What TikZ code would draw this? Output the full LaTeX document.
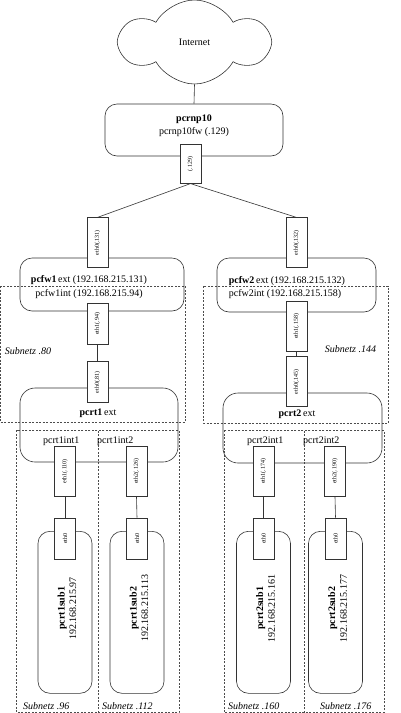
\documentclass[tikz,border=0pt]{standalone}
\usepackage{fontspec}
\setmainfont{Liberation Serif}
\usepackage{graphicx}
\usetikzlibrary{shapes,arrows}
\pgfdeclarelayer{background}
\pgfsetlayers{background,main}
\newcommand{\uptext}[1]{\rotatebox{90}{#1}}
\tikzstyle{host}=[draw=black!80, line width=0.6pt, rounded corners=12pt, 
    inner sep=0pt]
\tikzstyle{subhost}=[host, minimum width=54pt, minimum height=162pt]
\tikzstyle{iface}=[draw=black!80, line width=0.6pt, fill=white, inner sep=1pt,
    minimum width=21pt, minimum height=41pt, font=\fontsize{6}{7}\selectfont]
\tikzstyle{ifacelong}=[iface, minimum height=50pt]
\tikzstyle{lbl}=[inner sep=0pt, align=center, font=\fontsize{10}{13.3}\selectfont]
\tikzstyle{sublbl}=[lbl, rotate=90, font=\fontsize{10}{11.7}\selectfont]
\tikzstyle{snlabel}=[inner sep=0pt, font=\itshape]
\tikzstyle{subnet}=[draw=black!70, line width=0.6pt, dash pattern=on 2pt off 1.5pt]
\tikzstyle{link}=[draw=black!80, line width=0.6pt]
\tikzstyle{inet}=[cloud, draw=black!80, line width=0.6pt, cloud puffs=6, 
    cloud puff arc=120, aspect=1.75, minimum width=147pt, minimum height=84pt,
    inner sep=0pt]

\begin{document}
\begin{tikzpicture}[x=1pt,y=1pt]
    \useasboundingbox (0,0) rectangle (400,-713);

    \node (inet)[inet] at (194.5,-42) {Internet};
    \path (inet.center)+(-0.5,-88) node (pcrnp)[host, minimum width=178pt, 
        minimum height=52pt] {};
    \path (pcrnp.center)+(0,4.5) node (pcrnpText)[lbl] 
        {\textbf{pcrnp10}\\pcrnp10fw (.129)};
    \path (pcrnp.south)+(-3.5,-7.5) node (if129)[iface, minimum height=39pt] 
        {\uptext{(.129)}};

    %%% firewalls
    \path (pcrnp.center)+(-92,-154.5) node (pcfw1)[host, minimum width=164pt, 
        minimum height=53pt] {};
    \path (pcfw1.center)+(-13,-2.5) node (pcfw1Text)[lbl] 
        {\textbf{pcfw1}\,ext (192.168.215.131)\\pcfw1int (192.168.215.94)};
    \path (pcfw1.north)+(-4.5,15) node (eth0a)[ifacelong] {\uptext{eth0(.131)}};
    \path (pcfw1.south)+(-4.5,-12.5) node (eth1a)[iface] {\uptext{eth1(.94)}};

    \path (pcrnp.center)+(102.5,-155) node (pcfw2)[host, minimum width=159pt, 
        minimum height=54pt] {};
    \path (pcfw2.west)+(12,-2.5) node (pcfw2Text)[lbl, align=left, anchor=west] 
        {\textbf{pcfw2}\,ext (192.168.215.132)\\pcfw2int (192.168.215.158)};
    \path (pcfw2.north)+(0,15) node (eth0b)[ifacelong] {\uptext{eth0(.132)}};
    \path (pcfw2.south)+(0,-14) node (eth1b)[ifacelong] {\uptext{eth1(.158)}};

    %%% router 1
    \path (pcfw1.center)+(-3,-140.5) node (pcrt1)[host, rounded corners=15pt, 
        minimum width=158pt, minimum height=74pt] {};
    \path (pcrt1.center)+(-1,12) node (pcrt1Text)[lbl] {\textbf{pcrt1}\,ext};
    \path (pcrt1.north)+(-1.5,5.5) node (eth0c)[iface] {\uptext{eth0(.81)}};
    \path (pcrt1.south)+(-34,-9) node (eth1c)[ifacelong] {\uptext{eth1(.110)}};
    \path (pcrt1.south)+(37.5,-9) node (eth2c)[ifacelong] {\uptext{eth2(.126)}};
    \path (pcrt1.south)+(-56,21) node (pcrt1int1)[lbl, anchor=west] {pcrt1int1};
    \path (pcrt1.south)+(-2,21) node (pcrt1int2)[lbl, anchor=west] {pcrt1int2};

    %%% router 2
    \path (pcfw2.center)+(6,-143) node (pcrt2)[host, rounded corners=15pt, 
        minimum width=159pt, minimum height=70pt] {};
    \path (pcrt2.center)+(-5.5,14) node (pcrt2Text)[lbl] {\textbf{pcrt2}\,ext};
    \path (pcrt2.north)+(-6,11) node (eth0d)[ifacelong] {\uptext{eth0(.145)}};
    \path (pcrt2.south)+(-39,-8) node (eth1d)[ifacelong] {\uptext{eth1(.174)}};
    \path (pcrt2.south)+(32.5,-8) node (eth2d)[ifacelong] {\uptext{eth2(.190)}};
    \path (pcrt2.south)+(-55.5,22) node (pcrt2int1)[lbl, anchor=west] {pcrt2int1};
    \path (pcrt2.south)+(0.5,22) node (pcrt2int2)[lbl, anchor=west] {pcrt2int2};

    %%% subnet hosts
    \path (pcrt1.south)+(-34,-150) node (sub11)[subhost] {};
    \path (pcrt1.south)+(38,-150) node (sub12)[subhost] {};
    \path (pcrt2.south)+(-39,-149) node (sub21)[subhost] {};
    \path (pcrt2.south)+(33,-149) node (sub22)[subhost] {};
    \path (sub11.center)+(2,4) node (sub11Text)[sublbl] 
        {\textbf{pcrt1sub1}\\192.168.215.97};
    \path (sub12.center)+(2,4) node (sub12Text)[sublbl] 
        {\textbf{pcrt1sub2}\\192.168.215.113};
    \path (sub21.center)+(2,4) node (sub21Text)[sublbl] 
        {\textbf{pcrt2sub1}\\192.168.215.161};
    \path (sub22.center)+(2,4) node (sub22Text)[sublbl] 
        {\textbf{pcrt2sub2}\\192.168.215.177};
    \path (sub11.north)+(0,-7.5) node (eth0e)[iface] {\uptext{eth0}};
    \path (sub12.north)+(0,-7.5) node (eth0f)[iface] {\uptext{eth0}};
    \path (sub21.north)+(0,-7.5) node (eth0g)[iface] {\uptext{eth0}};
    \path (sub22.north)+(0,-7.5) node (eth0h)[iface] {\uptext{eth0}};

    %%% subnets
    \begin{pgfonlayer}{background}
        \path (pcfw1.west)+(-19.5,-1.5) coordinate (a);
        \path (pcrt1.east)+(7,3) coordinate (c);
        \path[subnet] (a) rectangle (c);
        \path (pcfw2.west)+(-13,-1) coordinate (a);
        \path (pcrt2.east)+(6,5) coordinate (c);
        \path[subnet] (a) rectangle (c);
        % .96 and .112
        \path (sub11.west)+(-21,182) coordinate (a);
        \path (sub12.south)+(42,-19) coordinate (c);
        \path (sub11.south)+(33,-19) coordinate (m);
        \path[subnet] (a) rectangle (c);
        \path[subnet] (m) -- (m |- a);
        % .160 and .176
        \path (sub21.west)+(-12,182) coordinate (a);
        \path (sub22.south)+(48.5,-19) coordinate (c);
        \path (sub21.south)+(40.5,-19) coordinate (m);
        \path[subnet] (a) rectangle (c);
        \path[subnet] (m) -- (m |- a);
    \end{pgfonlayer}

    \path (pcfw1.west)+(-15,-66.5) node (sn80)[snlabel, anchor=west] {Subnetz .80};
    \path (pcrt2.east)+(-6,79) node (sn144)[snlabel, anchor=east] {Subnetz .144};
    \path (sub11.south)+(-42,-12) node (sn96)[snlabel, anchor=west] {Subnetz .96};
    \path (sub12.south)+(-35,-12) node (sn112)[snlabel, anchor=west] {Subnetz .112};
    \path (sub21.south)+(-35.5,-12) node (sn160)[snlabel, anchor=west] {Subnetz .160};
    \path (sub22.south)+(-15.5,-12) node (sn176)[snlabel, anchor=west] {Subnetz .176};

    %%% links
    \path [link] (inet.south) -- (pcrnp.north);
    \path [link] (if129.south) -- (eth0a.north);
    \path [link] (if129.south) -- (eth0b.north);
    \path [link] (eth1a.south) -- (eth0c.north);
    \path [link] (eth1b.south) -- (eth0d.north);
    \path [link] (eth1c.south) -- (eth0e.north);
    \path [link] (eth2c.south) -- (eth0f.north);
    \path [link] (eth1d.south) -- (eth0g.north);
    \path [link] (eth2d.south) -- (eth0h.north);

\end{tikzpicture}
\end{document}
